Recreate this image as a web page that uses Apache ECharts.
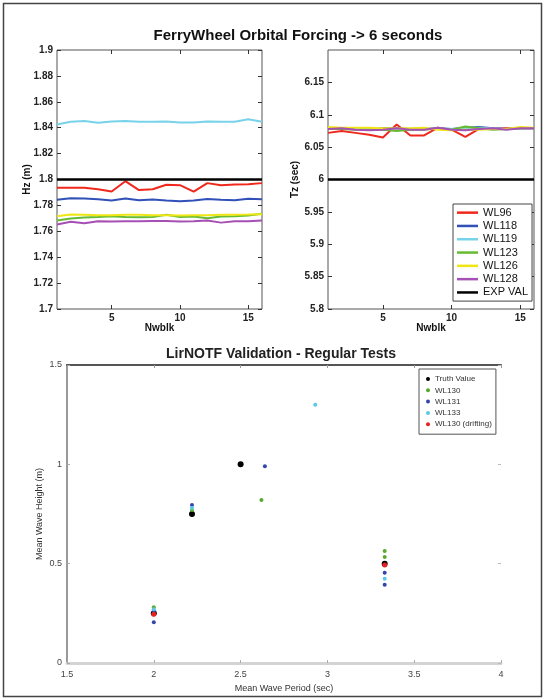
<!DOCTYPE html>
<html><head><meta charset="utf-8">
<script src="https://cdn.jsdelivr.net/npm/echarts@6/dist/echarts.min.js"></script>
<style>html,body{margin:0;padding:0;background:#fff}#c{width:548px;height:700px}</style>
</head><body><div id="c"></div>
<script>
// ---------- data ----------
const nwblk = [1,2,3,4,5,6,7,8,9,10,11,12,13,14,15,16];
const topNames = ['WL96','WL118','WL119','WL123','WL126','WL128','EXP VAL'];
const topColors = ['#f0281c','#3150b8','#78d2ea','#66bb33','#f0e614','#a64fb4','#000000'];

const hzWL96  = [1.7936,1.7936,1.7936,1.7925,1.7907,1.7987,1.7918,1.7925,1.7959,1.7956,1.7907,1.7972,1.7956,1.7961,1.7964,1.7972];
const hzWL118 = [1.7843,1.7856,1.7853,1.7848,1.7838,1.7853,1.7840,1.7845,1.7838,1.7833,1.7838,1.7850,1.7843,1.7840,1.7851,1.7848];
const hzWL119 = [1.8425,1.8446,1.8451,1.8438,1.8448,1.8451,1.8446,1.8446,1.8448,1.8441,1.8441,1.8448,1.8446,1.8446,1.8466,1.8446];
const hzWL123 = [1.7683,1.7698,1.7706,1.7711,1.7717,1.7711,1.7709,1.7711,1.7727,1.7711,1.7714,1.7701,1.7714,1.7717,1.7722,1.7735];
const hzWL126 = [1.7717,1.7729,1.7727,1.7724,1.7724,1.7727,1.7727,1.7724,1.7724,1.7722,1.7724,1.7724,1.7727,1.7727,1.7729,1.7732];
const hzWL128 = [1.7652,1.7673,1.7662,1.7678,1.7675,1.7678,1.7678,1.7680,1.7680,1.7675,1.7678,1.7683,1.7667,1.7678,1.7678,1.7683];
const hzEXP   = [1.8,1.8,1.8,1.8,1.8,1.8,1.8,1.8,1.8,1.8,1.8,1.8,1.8,1.8,1.8,1.8];

const tzWL96  = [6.072,6.075,6.072,6.069,6.065,6.085,6.068,6.068,6.080,6.077,6.066,6.078,6.079,6.079,6.079,6.079];
const tzWL118 = [6.078,6.079,6.078,6.078,6.079,6.079,6.078,6.078,6.079,6.078,6.080,6.081,6.079,6.078,6.079,6.079];
const tzWL119 = [6.079,6.079,6.078,6.078,6.078,6.078,6.078,6.078,6.079,6.078,6.079,6.080,6.079,6.078,6.079,6.079];
const tzWL123 = [6.078,6.078,6.077,6.077,6.077,6.075,6.077,6.077,6.079,6.077,6.082,6.079,6.077,6.078,6.079,6.079];
const tzWL126 = [6.081,6.080,6.080,6.080,6.079,6.079,6.079,6.080,6.077,6.076,6.077,6.077,6.078,6.078,6.081,6.080];
const tzWL128 = [6.078,6.079,6.077,6.076,6.077,6.079,6.077,6.077,6.080,6.077,6.076,6.078,6.079,6.077,6.079,6.079];
const tzEXP   = [6.0,6.0,6.0,6.0,6.0,6.0,6.0,6.0,6.0,6.0,6.0,6.0,6.0,6.0,6.0,6.0];

const nwblkTicks = [5,10,15];

const botNames = ['Truth Value','WL130','WL131','WL133','WL130 (drifting)'];
const botColors = ['#000000','#5aaa30','#3344aa','#5bc8e8','#e82020'];
const periodTruth = [2.0, 2.22, 2.5, 3.33];
const heightTruth = [0.25, 0.75, 1.0, 0.5];
const periodWL130 = [2.0, 2.22, 2.62, 3.33, 3.33];
const heightWL130 = [0.28, 0.77, 0.82, 0.564, 0.534];
const periodWL131 = [2.0, 2.0, 2.22, 2.64, 3.33, 3.33];
const heightWL131 = [0.26, 0.205, 0.795, 0.99, 0.454, 0.394];
const periodWL133 = [2.0, 2.22, 2.93, 3.33];
const heightWL133 = [0.27, 0.78, 1.30, 0.424];
const periodDrift = [2.0, 3.33];
const heightDrift = [0.245, 0.493];

// ---------- chart ----------
const FONT = "'Liberation Sans', Arial, sans-serif";
const zip = (xs, ys) => xs.map((x, i) => [x, ys[i]]);

function nwX(g, pos) {
  const a = {
    gridIndex: g, type: 'value', min: 1, max: 16, position: pos,
    axisLine: {show: false, onZero: false},
    axisTick: {show: true, inside: true, length: 4, customValues: nwblkTicks, lineStyle: {color: '#333'}},
    axisLabel: {show: pos === 'bottom', customValues: nwblkTicks, fontSize: 10, fontWeight: 'bold', color: '#222', margin: 4, fontFamily: FONT},
    splitLine: {show: false}
  };
  if (pos === 'bottom') {
    a.name = 'Nwblk'; a.nameLocation = 'middle'; a.nameGap = 14; a.nameMoveOverlap = false;
    a.nameTextStyle = {fontSize: 10, fontWeight: 'bold', color: '#111', fontFamily: FONT};
  }
  return a;
}
function valY(g, pos, min, max, interval, name, gap, showMax) {
  const a = {
    gridIndex: g, type: 'value', min, max, interval, position: pos,
    axisLine: {show: false, onZero: false},
    axisTick: {show: true, inside: true, length: 4, lineStyle: {color: '#333'}},
    axisLabel: {show: pos === 'left', fontSize: 10, fontWeight: 'bold', color: '#222', margin: 4, fontFamily: FONT, showMaxLabel: showMax},
    splitLine: {show: false}
  };
  if (pos === 'left') {
    a.name = name; a.nameLocation = 'middle'; a.nameGap = gap; a.nameMoveOverlap = false;
    a.nameTextStyle = {fontSize: 10, fontWeight: 'bold', color: '#111', fontFamily: FONT};
  }
  return a;
}

const hzSets = [hzWL96, hzWL118, hzWL119, hzWL123, hzWL126, hzWL128, hzEXP];
const tzSets = [tzWL96, tzWL118, tzWL119, tzWL123, tzWL126, tzWL128, tzEXP];
const series = [];
[hzSets, tzSets].forEach((sets, g) => {
  sets.forEach((vals, i) => {
    series.push({
      type: 'line', name: topNames[i], xAxisIndex: g * 2, yAxisIndex: g * 2,
      data: zip(nwblk, vals), symbol: 'none', animation: false,
      lineStyle: {color: topColors[i], width: i === 6 ? 2.5 : 2},
      itemStyle: {color: topColors[i]}
    });
  });
});
const botSets = [[periodTruth, heightTruth], [periodWL130, heightWL130], [periodWL131, heightWL131], [periodWL133, heightWL133], [periodDrift, heightDrift]];
botSets.forEach((s, i) => {
  series.push({
    type: 'scatter', name: botNames[i], xAxisIndex: 4, yAxisIndex: 4,
    data: zip(s[0], s[1]), symbol: 'circle', symbolSize: i === 0 ? 6 : (i === 4 ? 5 : 4),
    itemStyle: {color: botColors[i], opacity: 1}, animation: false, z: i === 0 ? 1 : 2
  });
});

const chart = echarts.init(document.getElementById('c'), null, {renderer: 'canvas'});
chart.setOption({
  backgroundColor: '#fff',
  animation: false,
  textStyle: {fontFamily: FONT},
  title: [
    {text: 'FerryWheel Orbital Forcing -> 6 seconds', left: 298, top: 28, textAlign: 'center', padding: 0,
     textStyle: {fontSize: 15, fontWeight: 'bold', color: '#111', fontFamily: FONT}},
    {text: 'LirNOTF Validation - Regular Tests', left: 281, top: 347, textAlign: 'center', padding: 0,
     textStyle: {fontSize: 14, fontWeight: 'bold', color: '#222', fontFamily: FONT}}
  ],
  grid: [
    {left: 57, top: 50, width: 205, height: 259, show: true, borderColor: '#555', borderWidth: 1, backgroundColor: 'transparent'},
    {left: 328, top: 50, width: 206, height: 259, show: true, borderColor: '#555', borderWidth: 1, backgroundColor: 'transparent'},
    {left: 67, top: 365, width: 434, height: 298, show: false}
  ],
  xAxis: [
    nwX(0, 'bottom'), nwX(0, 'top'), nwX(1, 'bottom'), nwX(1, 'top'),
    {gridIndex: 2, type: 'value', min: 1.5, max: 4, interval: 0.5, position: 'bottom',
     axisLine: {show: true, onZero: false, lineStyle: {color: '#d4d4d4', width: 3}},
     axisTick: {show: true, inside: true, length: 3, lineStyle: {color: '#aaa'}},
     axisLabel: {fontSize: 9, color: '#444', margin: 7, fontFamily: FONT},
     splitLine: {show: false},
     name: 'Mean Wave Period (sec)', nameLocation: 'middle', nameGap: 21, nameMoveOverlap: false,
     nameTextStyle: {fontSize: 9, color: '#333', fontFamily: FONT}},
    {gridIndex: 2, type: 'value', min: 1.5, max: 4, interval: 0.5, position: 'top',
     axisLine: {show: true, onZero: false, lineStyle: {color: '#555', width: 2}},
     axisTick: {show: true, inside: true, length: 3, lineStyle: {color: '#999'}},
     axisLabel: {show: false}, splitLine: {show: false}}
  ],
  yAxis: [
    valY(0, 'left', 1.7, 1.9, 0.02, 'Hz (m)', 25, true), valY(0, 'right', 1.7, 1.9, 0.02, '', 0, true),
    valY(1, 'left', 5.8, 6.2, 0.05, 'Tz (sec)', 28, false), valY(1, 'right', 5.8, 6.2, 0.05, '', 0, false),
    {gridIndex: 2, type: 'value', min: 0, max: 1.5, interval: 0.5, position: 'left',
     axisLine: {show: true, onZero: false, lineStyle: {color: '#999', width: 2}},
     axisTick: {show: true, inside: true, length: 3, lineStyle: {color: '#aaa'}},
     axisLabel: {fontSize: 9, color: '#444', margin: 5, fontFamily: FONT},
     splitLine: {show: false},
     name: 'Mean Wave Height (m)', nameLocation: 'middle', nameGap: 23, nameMoveOverlap: false,
     nameTextStyle: {fontSize: 9, color: '#333', fontFamily: FONT}},
    {gridIndex: 2, type: 'value', min: 0, max: 1.5, interval: 0.5, position: 'right',
     axisLine: {show: false, onZero: false},
     axisTick: {show: true, inside: true, length: 3, lineStyle: {color: '#bbb'}},
     axisLabel: {show: false}, splitLine: {show: false}}
  ],
  legend: [
    {data: topNames, orient: 'vertical', left: 453, top: 204, icon: 'rect',
     backgroundColor: '#fff', borderColor: '#444', borderWidth: 1,
     padding: [2, 4, 2, 4], itemGap: 0, itemWidth: 21, itemHeight: 2.5, itemTextGap: 0,
     textStyle: {fontSize: 11, color: '#111', lineHeight: 13.3, fontFamily: FONT}},
    {data: botNames, orient: 'vertical', left: 419, top: 369,
     backgroundColor: '#fff', borderColor: '#555', borderWidth: 1,
     padding: [5, 4, 5, 7], itemGap: 1.3, itemWidth: 4, itemHeight: 4, itemTextGap: 7, icon: 'circle',
     textStyle: {fontSize: 8, color: '#333', lineHeight: 10, fontFamily: FONT}}
  ],
  graphic: [
    {type: 'rect', shape: {x: 3.5, y: 3.5, width: 538, height: 693}, style: {fill: 'none', stroke: '#444', lineWidth: 1.5}, silent: true, z: 100}
  ],
  series
});
</script></body></html>
